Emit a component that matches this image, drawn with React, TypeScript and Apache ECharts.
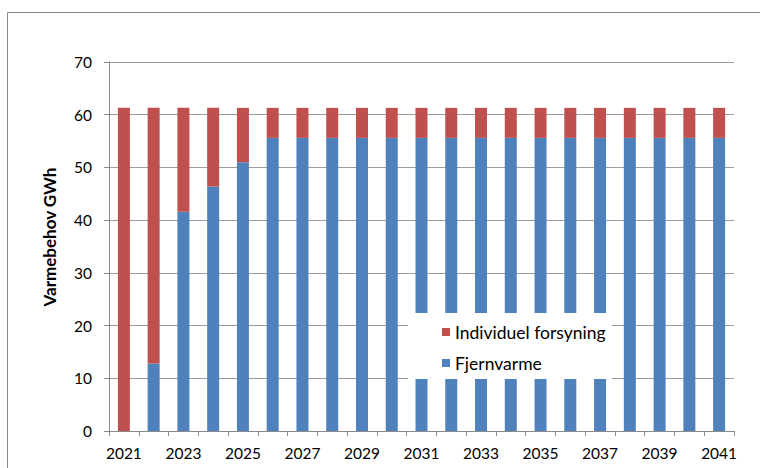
import React, { useEffect, useRef } from "react";
import * as echarts from "echarts";

const years = [
  "2021", "2022", "2023", "2024", "2025", "2026", "2027", "2028", "2029", "2030", "2031",
  "2032", "2033", "2034", "2035", "2036", "2037", "2038", "2039", "2040", "2041",
];
const fjernvarme = [
  0, 12.8, 41.6, 46.4, 51.0, 55.6, 55.6, 55.6, 55.6, 55.6, 55.6,
  55.6, 55.6, 55.6, 55.6, 55.6, 55.6, 55.6, 55.6, 55.6, 55.6,
];
const individuel = [
  61.3, 48.5, 19.7, 14.9, 10.3, 5.7, 5.7, 5.7, 5.7, 5.7, 5.7,
  5.7, 5.7, 5.7, 5.7, 5.7, 5.7, 5.7, 5.7, 5.7, 5.7,
];
const yTicks = [0, 70, 10];

const FONT = "Lato, 'Open Sans', sans-serif";

export default function App() {
  const ref = useRef<HTMLDivElement>(null);
  useEffect(() => {
    if (!ref.current) return;
    const chart = echarts.init(ref.current, undefined, { renderer: "svg" });
    chart.setOption({
      animation: false,
      backgroundColor: "#fff",
      textStyle: { fontFamily: FONT },
      grid: { left: 109, right: 26, top: 62, bottom: 37, containLabel: false },
      graphic: [
        {
          type: "rect",
          shape: { x: 7.5, y: 12.5, width: 800, height: 500 },
          style: { fill: "none", stroke: "#8a8a8a", lineWidth: 1 },
          silent: true,
        },
        {
          type: "text",
          x: 49,
          y: 237,
          rotation: Math.PI / 2,
          style: {
            text: "Varmebehov GWh",
            font: `bold 17px ${FONT}`,
            fill: "#000",
            align: "center",
            verticalAlign: "middle",
          },
        },
      ],
      legend: {
        data: ["Individuel forsyning", "Fjernvarme"],
        orient: "vertical",
        left: 408,
        top: 313,
        padding: [10, 6, 7, 34],
        backgroundColor: "#fff",
        itemWidth: 8,
        itemHeight: 8,
        itemGap: 13,
        icon: "rect",
        textStyle: { fontSize: 17.5, color: "#000", fontFamily: FONT },
      },
      xAxis: {
        type: "category",
        data: years,
        boundaryGap: true,
        axisLine: { show: true, lineStyle: { color: "#8a8a8a", width: 1 } },
        axisTick: { show: true, interval: 0, length: 5, lineStyle: { color: "#8a8a8a" } },
        axisLabel: { interval: 1, fontSize: 15.5, color: "#000", margin: 14, fontFamily: FONT },
        splitLine: { show: false },
      },
      yAxis: {
        type: "value",
        min: yTicks[0],
        max: yTicks[1],
        interval: yTicks[2],
        axisLine: { show: true, lineStyle: { color: "#8a8a8a", width: 1 } },
        axisTick: { show: true, length: 5, lineStyle: { color: "#8a8a8a" } },
        axisLabel: { fontSize: 15.5, color: "#000", margin: 17, fontFamily: FONT },
        splitLine: { show: true, lineStyle: { color: "#9c9c9c", width: 1 } },
      },
      series: [
        {
          name: "Fjernvarme",
          type: "bar",
          stack: "total",
          data: fjernvarme,
          barWidth: 12,
          itemStyle: { color: "#4F81BD" },
        },
        {
          name: "Individuel forsyning",
          type: "bar",
          stack: "total",
          data: individuel,
          barWidth: 12,
          itemStyle: { color: "#C0504D" },
        },
      ],
    });
    return () => chart.dispose();
  }, []);
  return (
    <div
      ref={ref}
      style={{ position: "fixed", left: 0, top: 0, width: 760, height: 468 }}
    />
  );
}
